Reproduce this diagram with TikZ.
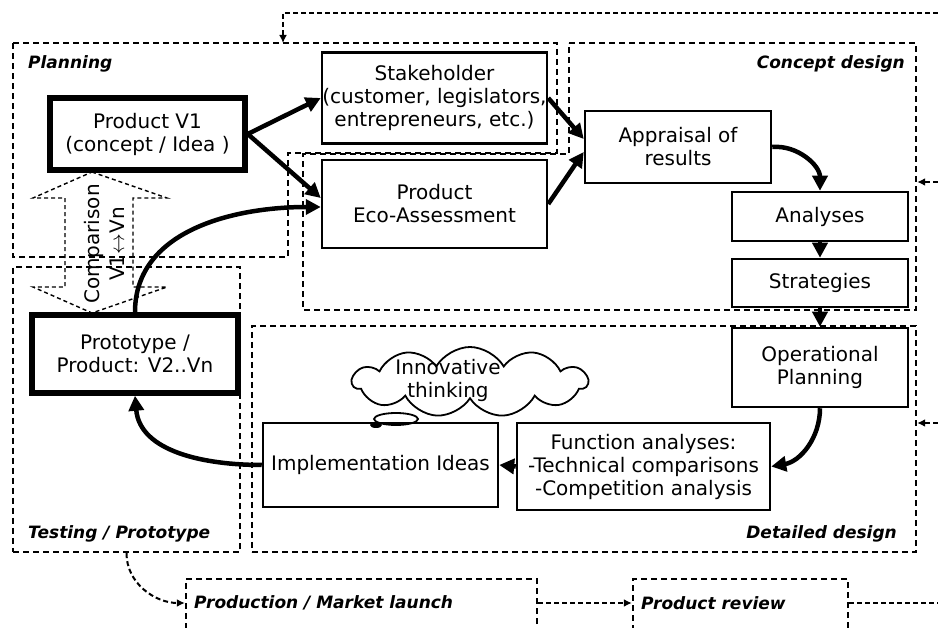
\documentclass[tikz,border=0pt]{standalone}
\usepackage{fontspec}
\setmainfont{DejaVu Sans}
\usetikzlibrary{
    arrows.meta,
    positioning,
    shapes.symbols,
    shapes.geometric
}
\tikzset{
    box/.style={draw, line width=2.5pt, fill=white, align=center,
                inner sep=0pt, font=\fontsize{20}{23}\selectfont},
    heavybox/.style={box, line width=5.5pt},
    region/.style={draw, line width=2.4pt, dash pattern=on 6pt off 4pt},
    regionlabel/.style={font=\fontsize{17}{20}\selectfont\bfseries\itshape,
                        inner sep=0pt},
    flow/.style={line width=4.5pt, -{Triangle[length=15pt,width=15pt]}},
    loopline/.style={line width=2pt, dash pattern=on 5pt off 3pt,
                     -{Latex[length=8pt,width=8pt]}},
    cmparrow/.style={draw, line width=1.4pt, dash pattern=on 4pt off 3pt},
}

\begin{document}
\begin{tikzpicture}[x=1pt, y=-1pt]
    \useasboundingbox (0,0) rectangle (938,628);

    %% Regions
        \draw[region] (13,43) -- (557,43) -- (557,153) -- (288,153)
                      -- (288,257) -- (13,257) -- cycle;
        \draw[region] (569,43) -- (916,43) -- (916,310) -- (303,310)
                      -- (303,154) -- (569,154) -- cycle;
        \node[region, minimum width=227pt, minimum height=285pt] (testing) at (126.5,409.5) {};
        \node[region, minimum width=664pt, minimum height=226pt] (detailed) at (584,439) {};
        \node[region, minimum width=351pt, minimum height=54pt] (prod) at (361.5,606) {};
        \node[region, minimum width=215pt, minimum height=54pt] (review) at (740.5,606) {};

        \node[regionlabel, anchor=west] (lplan) at (28,64) {Planning};
        \node[regionlabel, anchor=east] (lconc) at (905,64) {Concept design};
        \node[regionlabel, anchor=west] (ltest) at (28,534) {Testing / Prototype};
        \node[regionlabel, anchor=east] (ldet) at (897,534) {Detailed design};
        \node[regionlabel, anchor=west] (lprod) at (194,603) {Production / Market launch};
        \node[regionlabel, anchor=west] (lrev) at (641,603) {Product review};

    %% Comparison arrow
        \draw[cmparrow] (92,172) -- (167,198) -- (133,198) -- (133,287) -- (167,287)
                        -- (92,313) -- (33,287) -- (65,287) -- (65,198) -- (33,198) -- cycle;
        \node[rotate=90, align=center, font=\fontsize{20}{25}\selectfont,
              inner sep=0pt] (cmp) at (104,244) {Comparison\\V1$\leftrightarrow$Vn};

    %% Boxes
        \node[heavybox, minimum width=195pt, minimum height=72pt]
              (pv1) at (147.5,134) {Product V1\\(concept / Idea )};
        \node[box, minimum width=225pt, minimum height=91pt]
              (stake) at (434.5,98) {Stakeholder\\(customer, legislators,\\entrepreneurs, etc.)};
        \node[box, minimum width=225pt, minimum height=88pt]
              (eco) at (434.5,204) {Product\\Eco-Assessment};
        \node[box, minimum width=186pt, minimum height=72pt]
              (appr) at (678,147) {Appraisal of\\results};
        \node[box, minimum width=176pt, minimum height=49pt]
              (anal) at (820,216.5) {Analyses};
        \node[box, minimum width=176pt, minimum height=48pt]
              (strat) at (820,283) {Strategies};
        \node[box, minimum width=176pt, minimum height=79pt]
              (oper) at (820,367.5) {Operational\\Planning};
        \node[box, minimum width=253pt, minimum height=87pt]
              (func) at (643.5,466.5) {Function analyses:\\-Technical comparisons\\-Competition analysis};
        \node[box, minimum width=235pt, minimum height=84pt]
              (impl) at (380.5,465) {Implementation Ideas};
        \node[heavybox, minimum width=206pt, minimum height=78pt]
              (proto) at (135,354) {Prototype /\\Product: V2..Vn};

    %% Cloud
        \node[cloud, draw, line width=1.8pt, cloud puffs=11, cloud puff arc=120,
              minimum width=235pt, minimum height=70pt] (cloud) at (470,382) {};
        \node[align=center, inner sep=0pt, font=\fontsize{20}{23}\selectfont]
              (innov) at (448,380) {Innovative\\thinking};
        \node[ellipse, draw, line width=1.8pt, minimum width=44pt, minimum height=12pt,
              inner sep=0pt] (bubble) at (396,419) {};
        \node[ellipse, fill, minimum width=12pt, minimum height=6pt,
              inner sep=0pt] (blob) at (376,425) {};

    %% Flow
        \draw[flow] (pv1.east) -- (stake.west);
        \draw[flow] (pv1.east) -- ([yshift=6pt]eco.west);
        \draw[flow] (proto.north) to[out=90, in=180] ([yshift=-3pt]eco.west);
        \draw[flow] (stake.east) -- ([yshift=8pt]appr.west);
        \draw[flow] (eco.east) -- ([yshift=-5pt]appr.west);
        \draw[flow] (appr.east) to[out=5, in=90] (anal.north);
        \draw[flow] (anal.south) -- (strat.north);
        \draw[flow] (strat.south) -- (oper.north);
        \draw[flow] (oper.south) to[out=-90, in=10] (func.east);
        \draw[flow] (func.west) -- (impl.east);
        \draw[flow] (impl.west) to[out=180, in=-85] (proto.south);

    %% Loop
        \coordinate (topR) at (938,13);
        \coordinate (topL) at (283,13);
        \coordinate (planTop) at (283,43);
        \coordinate (botR) at (938,603);
        \coordinate (sideA) at (938,182);
        \coordinate (sideB) at (938,423);
        \draw[loopline] (topR) -- (topL) -- (planTop);
        \draw[loopline] (testing.south) to[out=-90, in=180] ([yshift=3pt]prod.west);
        \draw[loopline] ([yshift=3pt]prod.east) -- ([yshift=3pt]review.west);
        \draw[loopline, -] ([yshift=3pt]review.east) -- (botR);
        \draw[loopline] (sideA) -- (sideA -| detailed.east);
        \draw[loopline] (sideB) -- (detailed.east |- sideB);
\end{tikzpicture}
\end{document}
